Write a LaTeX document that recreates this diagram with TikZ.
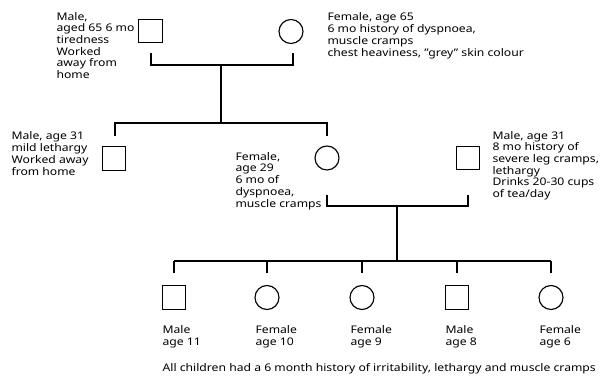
\documentclass[tikz,border=0pt]{standalone}
\usepackage{fontspec}
\setmainfont{Noto Sans}[FakeStretch=1.16]
\begin{document}
\begin{tikzpicture}[x=1bp,y=-1bp,line width=1.15bp,
  male/.style={draw,rectangle,minimum size=23.5bp,inner sep=0pt},
  female/.style={draw,circle,minimum size=24bp,inner sep=0pt},
  lbl/.style={align=left,anchor=base west,inner sep=0pt,font=\fontsize{10.5bp}{11.7bp}\selectfont}]
\useasboundingbox (0,0) rectangle (607,376);
% generation I
\node[male] (m1) at (150.5,31) {};
\node[female] (f1) at (291,31.5) {};
\coordinate (m1d) at (151,53);
\coordinate (f1d) at (293,53);
\coordinate (c1l) at (151,65);
\coordinate (c1r) at (293,65);
\coordinate (c1) at (221,65);
\coordinate (s1) at (221,123);
\coordinate (s1l) at (115,123);
\coordinate (s1r) at (327,123);
\coordinate (s1ld) at (115,136);
\coordinate (s1rd) at (327,136);
\draw (m1d) -- (c1l) -- (c1r) -- (f1d);
\draw (c1) -- (s1);
\draw (s1ld) -- (s1l) -- (s1r) -- (s1rd);
% generation II
\node[male] (m2) at (114,158.5) {};
\node[female] (f2) at (327,158) {};
\node[male] (h2) at (468,158) {};
\coordinate (f2d) at (327,195);
\coordinate (h2d) at (468,195);
\coordinate (c2l) at (327,206);
\coordinate (c2r) at (468,206);
\coordinate (c2) at (397,206);
\coordinate (s2) at (397,261);
\coordinate (s2l) at (174,261);
\coordinate (s2r) at (551,261);
\draw (f2d) -- (c2l) -- (c2r) -- (h2d);
\draw (c2) -- (s2);
\draw (s2l) -- (s2r);
% generation III
\node[male] (k1) at (174,297.5) {};
\node[female] (k2) at (267,297.5) {};
\node[female] (k3) at (362,297.5) {};
\node[male] (k4) at (457,297.5) {};
\node[female] (k5) at (551,297.5) {};
\foreach \x/\n in {174/1,267/2,362/3,457/4,551/5}{
  \coordinate (d\n t) at (\x,261);
  \coordinate (d\n b) at (\x,273);
  \draw (d\n t) -- (d\n b);
}
% labels (anchored at the baseline of their last line)
\node[lbl] (t1) at (56,78.5) {Male,\\aged 65 6 mo\\tiredness\\Worked\\away from\\home};
\node[lbl] (t2) at (327,56) {Female, age 65\\6 mo history of dyspnoea,\\muscle cramps\\chest heaviness, ''grey'' skin colour};
\node[lbl] (t3) at (11,175) {Male, age 31\\mild lethargy\\Worked away\\from home};
\node[lbl] (t4) at (235,207) {Female,\\age 29\\6 mo of\\dyspnoea,\\muscle cramps};
\node[lbl] (t5) at (492,197.5) {Male, age 31\\8 mo history of\\severe leg cramps,\\lethargy\\Drinks 20-30 cups\\of tea/day};
\node[lbl] (l1) at (162,345) {Male\\age 11};
\node[lbl] (l2) at (255,345) {Female\\age 10};
\node[lbl] (l3) at (350,345) {Female\\age 9};
\node[lbl] (l4) at (445,345) {Male\\age 8};
\node[lbl] (l5) at (539,345) {Female\\age 6};
\node[lbl] (cap) at (162,371) {All children had a 6 month history of irritability, lethargy and muscle cramps};
\end{tikzpicture}
\end{document}
